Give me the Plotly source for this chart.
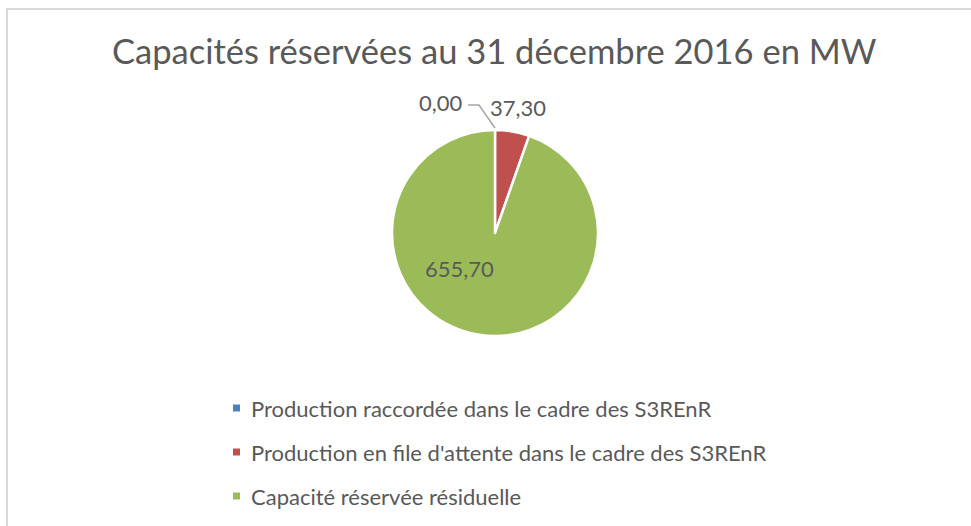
import math
import plotly.graph_objects as go

categories = [
    "Production raccordée dans le cadre des S3REnR",
    "Production en file d'attente dans le cadre des S3REnR",
    "Capacité réservée résiduelle",
]
values = [0.00, 37.30, 655.70]
colors = ["#4F81BD", "#C0504D", "#9BBB59"]
title_text = "Capacités réservées au 31 décembre 2016 en MW"

W, H = 971, 526
TXT = "#595959"
FONT = "Lato"

# pie geometry (pixels)
cx, cy, r = 495, 233, 103

def px(x):
    return x / W

def py(y):
    return 1 - y / H

fig = go.Figure()
fig.add_trace(go.Pie(
    labels=categories, values=values, sort=False, direction="clockwise",
    rotation=0, marker=dict(colors=colors, line=dict(color="white", width=2.5)),
    textinfo="none", showlegend=False, hoverinfo="label+value",
    domain=dict(x=[px(cx - r), px(cx + r)], y=[py(cy + r), py(cy - r)]),
))

total = sum(values)
def fmt(v):
    return f"{v:.2f}".replace(".", ",")

def slice_point(angle_deg, dist):
    a = math.radians(angle_deg)
    return cx + dist * math.sin(a), cy - dist * math.cos(a)

annotations = []
shapes = []
cum = 0.0
starts = []
for v in values:
    starts.append(cum / total * 360)
    cum += v

def label(x, y, text, size, xanchor="center"):
    annotations.append(dict(x=px(x), y=py(y), xref="paper", yref="paper", text=text,
                            xanchor=xanchor, yanchor="middle", showarrow=False,
                            font=dict(family=FONT, size=size, color=TXT)))

# label 0: zero slice with leader line from top of pie
tx, ty = slice_point(starts[0], r)
shapes.append(dict(type="path", xref="paper", yref="paper",
                   path=f"M {px(468)},{py(105)} L {px(479)},{py(105)} L {px(tx)},{py(ty - 2)}",
                   line=dict(color="#A6A6A6", width=1.5)))
label(441, 102, fmt(values[0]), 22)
label(518, 107, fmt(values[1]), 22)
label(459, 268, fmt(values[2]), 22)

# title
label(494, 50, title_text, 34.5)

# legend
rows = [408, 452, 496]
for name, col, yy in zip(categories, colors, rows):
    shapes.append(dict(type="rect", xref="paper", yref="paper",
                       x0=px(233), x1=px(240), y0=py(yy + 3.5), y1=py(yy - 3.5),
                       fillcolor=col, line=dict(width=0)))
    label(249, yy, name, 22, xanchor="left")

# chart border (top and left visible)
shapes.append(dict(type="path", xref="paper", yref="paper",
                   path=f"M {px(7)},-0.2 L {px(7)},{py(9)} L 1.2,{py(9)}",
                   line=dict(color="#D9D9D9", width=2)))

fig.update_layout(width=W, height=H, margin=dict(l=0, r=0, t=0, b=0),
                  paper_bgcolor="white", plot_bgcolor="white",
                  annotations=annotations, shapes=shapes, separators=", ")
fig.write_html("out.html", config={"displayModeBar": False},
               post_script="document.body.style.margin='0';")
